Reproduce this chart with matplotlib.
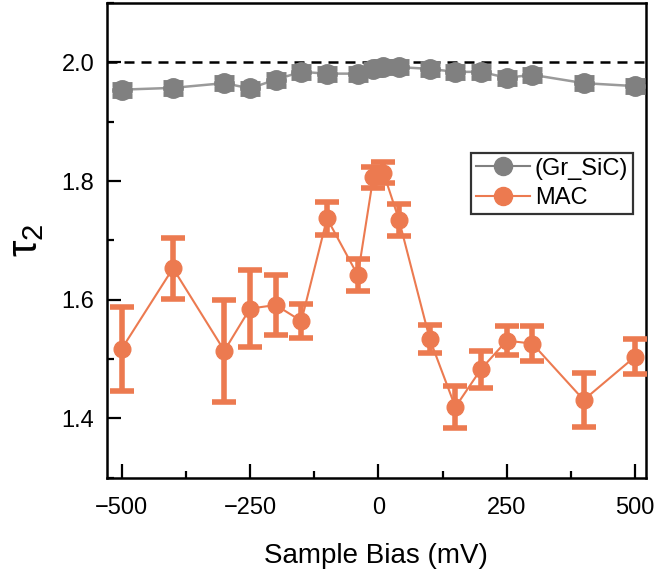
import matplotlib
matplotlib.use("Agg")
import matplotlib.pyplot as plt
from matplotlib.lines import Line2D
from matplotlib.ticker import MultipleLocator

plt.rcParams['font.family'] = ['Liberation Sans', 'DejaVu Sans']
plt.rcParams['mathtext.fontset'] = 'custom'
plt.rcParams['mathtext.rm'] = 'Liberation Sans'
plt.rcParams['mathtext.it'] = 'Liberation Sans:italic'

bias = [-500, -400, -300, -250, -200, -150, -100, -40, -10, 10, 40,
        100, 150, 200, 250, 300, 400, 500]

gr_sic = [1.954, 1.957, 1.965, 1.956, 1.971, 1.984, 1.981, 1.981, 1.988,
          1.993, 1.992, 1.989, 1.984, 1.984, 1.974, 1.979, 1.965, 1.960]
gr_sic_err = [0.010] * 18

mac = [1.517, 1.653, 1.514, 1.585, 1.591, 1.564, 1.737, 1.641, 1.806,
       1.814, 1.735, 1.534, 1.419, 1.483, 1.531, 1.526, 1.431, 1.504]
mac_err = [0.071, 0.051, 0.086, 0.065, 0.050, 0.029, 0.028, 0.027, 0.018,
           0.018, 0.027, 0.023, 0.035, 0.031, 0.024, 0.029, 0.046, 0.030]

labels = ['(Gr_SiC)', 'MAC']
gray = '#808080'
orange = '#EC7A50'

fig = plt.figure(figsize=(6.55, 5.71), dpi=100)
ax = fig.add_axes([0.163, 0.1634, 0.823, 0.8313])

ax.axhline(2.0, color='black', lw=1.8, dashes=(4, 2.8), zorder=1)

ax.plot(bias, gr_sic, color='#9a9a9a', lw=1.8, zorder=2)
ax.errorbar(bias, gr_sic, yerr=gr_sic_err, color=gray, ecolor=gray,
            marker='o', ms=14, mec=gray, mfc=gray, lw=0,
            elinewidth=3, capsize=7, capthick=3.5, zorder=3)

ax.errorbar(bias, mac, yerr=mac_err, color=orange, ecolor=orange,
            marker='o', ms=12, mec=orange, mfc=orange, lw=1.5,
            elinewidth=4, capsize=8.5, capthick=4, zorder=4)

ax.set_xlim(-529, 521)
ax.set_ylim(1.3, 2.1)
ax.xaxis.set_minor_locator(MultipleLocator(125))
ax.yaxis.set_minor_locator(MultipleLocator(0.1))
ax.set_xticks([-500, -250, 0, 250, 500])
ax.set_xticklabels(['\u2212500', '\u2212250', '0', '250', '500'])
ax.set_yticks([1.4, 1.6, 1.8, 2.0])
ax.set_yticklabels(['1.4', '1.6', '1.8', '2.0'])

ax.tick_params(which='major', direction='in', length=10, width=1.6,
               labelsize=17, pad=9, top=False, right=False)
ax.tick_params(which='minor', direction='in', length=5, width=1.6,
               top=False, right=False)
ax.tick_params(axis='x', which='major', pad=14)
for s in ax.spines.values():
    s.set_linewidth(1.8)

ax.set_xlabel('Sample Bias (mV)', fontsize=20, labelpad=17)
ax.set_ylabel('\u03c4$_2$', fontsize=30, labelpad=11)

handles = [Line2D([], [], color=gray, marker='o', ms=13, lw=1.5),
           Line2D([], [], color=orange, marker='o', ms=13, lw=1.5)]
leg = ax.legend(handles, labels, loc='upper right',
                bbox_to_anchor=(0.976, 0.684), fontsize=17, frameon=True,
                fancybox=False, edgecolor='black', handlelength=2.3,
                handletextpad=0.2, borderpad=0.2, labelspacing=0.3,
                borderaxespad=0)
leg.get_frame().set_linewidth(1.6)

fig.savefig('out.png', dpi=100)
